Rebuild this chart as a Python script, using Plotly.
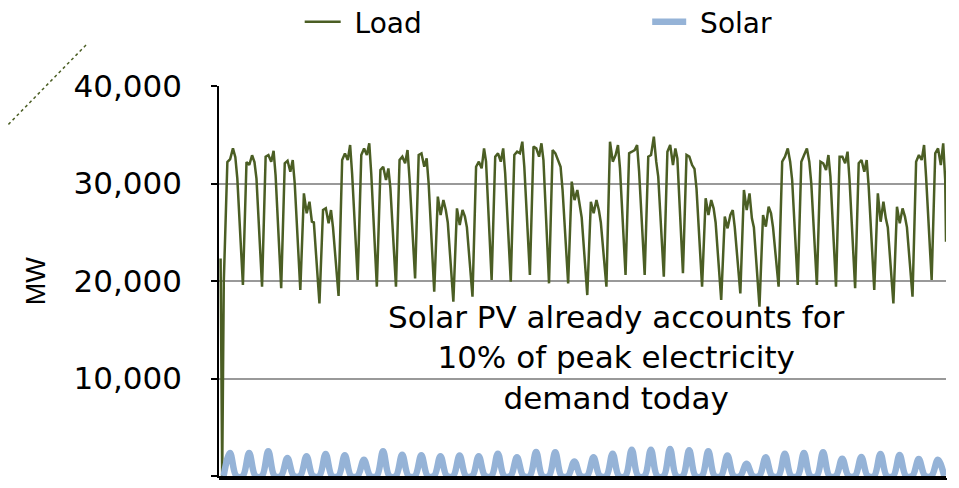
import plotly.graph_objects as go

# ---------------- data ----------------
n_days = 38

# load: overnight minimum (~06:00) of each day, MW
load_trough = [19900, 19590, 19420, 19250, 19080, 17710, 18460, 20100, 19420, 19420,
               20270, 18900, 17880, 18390, 20100, 19930, 20620, 19760, 19760, 18560,
               19420, 20620, 20620, 20440, 20790, 19420, 18050, 18730, 17370, 19420,
               19590, 19590, 19420, 19250, 19080, 17710, 18390, 20100]
# load: daytime plateau readings (morning, midday, afternoon, evening peak, late evening)
load_p1 = [32200, 32200, 32750, 32070, 28990, 27280, 32410, 32920, 31380, 32410,
           32920, 28650, 27450, 31720, 32750, 32920, 33780, 33430, 30190, 28130,
           34290, 33100, 32750, 33260, 32920, 28480, 26600, 29330, 26770, 32240,
           32240, 32240, 32750, 32070, 28990, 27620, 32240, 33090]
load_p2 = [32500, 31900, 32920, 32330, 26940, 27450, 33090, 33600, 31720, 32750,
           33090, 26770, 25740, 32240, 33090, 33260, 33600, 33090, 28300, 26940,
           32240, 33260, 32920, 33950, 32750, 26770, 25400, 27280, 25570, 32750,
           32920, 32070, 32750, 32410, 26080, 25910, 32920, 33600]
load_p3 = [33600, 32900, 32240, 31210, 28130, 25910, 32410, 32920, 30360, 32070,
           31720, 28300, 27280, 31550, 32240, 33090, 32750, 32240, 29330, 28300,
           32920, 33430, 34800, 31890, 31890, 28300, 26770, 28990, 27620, 33600,
           33600, 31380, 32070, 31210, 28130, 27450, 32410, 31890]
load_p4 = [32700, 32200, 33360, 32410, 26080, 27280, 33950, 34120, 31550, 33430,
           32580, 27280, 26600, 33600, 33600, 34290, 34120, 31720, 27790, 27280,
           33950, 33950, 32240, 33600, 31500, 27450, 27280, 26430, 26940, 32240,
           32240, 32920, 33260, 32410, 26430, 26600, 33950, 34120]
load_eve = [30500, 30500, 30800, 30000, 26000, 25500, 31000, 31000, 29500, 30500,
            30000, 26000, 25500, 32240, 31040, 31720, 32410, 29330, 26500, 26000,
            31550, 31210, 30700, 32580, 29500, 26000, 25500, 25500, 25500, 30360,
            30020, 30700, 30360, 29670, 25500, 25500, 30700, 30360]
# first hours of the record (incl. the zero reading) and the last reading
load_start = [22300, 0]
load_end = 24030

# solar: daily peak output, MW
solar_peak = [2360, 2360, 2530, 1850, 2020, 2260, 2120, 1670, 2530, 2190,
              2120, 2020, 2090, 2020, 2290, 1920, 2460, 2430, 1500, 1920,
              2290, 2700, 2700, 2770, 2630, 2530, 2090, 1260, 1920, 2290,
              2360, 2430, 1780, 1950, 2260, 2160, 1740, 1670]

y_ticks = [0, 10000, 20000, 30000, 40000]

# ---------------- build hourly-position series ----------------
load_x, load_y = [2, 4], list(load_start)
for d in range(n_days):
    base = 24 * d
    load_x += [base + 6, base + 10.5, base + 14, base + 17.5, base + 20.5, base + 23]
    load_y += [load_trough[d], load_p1[d], load_p2[d], load_p3[d], load_p4[d], load_eve[d]]
load_x.append(912)
load_y.append(load_end)

solar_x, solar_y = [], []
for d in range(n_days):
    base = 24 * d
    solar_x += [base + 5.8, base + 13.8, base + 21.8]
    solar_y += [0, solar_peak[d], 0]

OLIVE = "#4B5E24"
BLUE = "#95B3D7"
FONT = "DejaVu Sans"

fig = go.Figure()
fig.add_trace(go.Scatter(x=load_x, y=load_y, mode="lines", name="\u00a0Load",
                         legend="legend",
                         line=dict(color=OLIVE, width=2.5)))
fig.add_trace(go.Scatter(x=solar_x, y=solar_y, mode="lines", name="\u00a0Solar",
                         legend="legend2",
                         line=dict(color=BLUE, width=6.5, shape="spline", smoothing=1.0)))

fig.update_layout(
    width=943, height=472,
    margin=dict(l=211, r=5, t=78, b=4, autoexpand=False),
    paper_bgcolor="white", plot_bgcolor="white",
    font=dict(family=FONT, color="black", size=28),
    showlegend=True,
    legend=dict(orientation="h", x=0.111, xanchor="left", y=1.164, yanchor="middle",
                font=dict(family=FONT, size=28), bgcolor="rgba(0,0,0,0)",
                itemwidth=36),
    legend2=dict(orientation="h", x=0.589, xanchor="left", y=1.164, yanchor="middle",
                 font=dict(family=FONT, size=28), bgcolor="rgba(0,0,0,0)",
                 itemwidth=34),
    xaxis=dict(range=[0, 912], tickmode="linear", tick0=0, dtick=1,
               ticks="outside", ticklen=6, tickwidth=1, tickcolor="black",
               showticklabels=False, showgrid=False, zeroline=False,
               showline=True, linecolor="black", linewidth=1.5, automargin=False),
    yaxis=dict(range=[0, 40000], tickmode="array", tickvals=y_ticks,
               tickformat=",", ticks="outside", ticklen=6, tickwidth=1.5,
               tickcolor="black", tickfont=dict(family=FONT, size=31),
               ticklabelstandoff=23, automargin=False,
               showgrid=True, gridcolor="#999999", gridwidth=1.5,
               zeroline=False, showline=True, linecolor="black", linewidth=1.5),
)

fig.add_annotation(text="MW", xref="paper", yref="paper", x=-0.2515, y=0.5,
                   xanchor="center", yanchor="middle",
                   textangle=-90, showarrow=False,
                   font=dict(family="Liberation Sans", size=27))
fig.add_annotation(text="Solar PV already accounts for<br>10% of peak electricity<br>demand today",
                   xref="paper", yref="paper", x=0.547, y=0.3026,
                   xanchor="center", yanchor="middle",
                   showarrow=False, align="center",
                   font=dict(family=FONT, size=31))
fig.add_shape(type="line", xref="paper", yref="paper",
              x0=-0.3012, y0=0.8795, x1=-0.1802, y1=1.1103,
              line=dict(color=OLIVE, width=1.5, dash="dot"))

fig.write_html("out.html")
